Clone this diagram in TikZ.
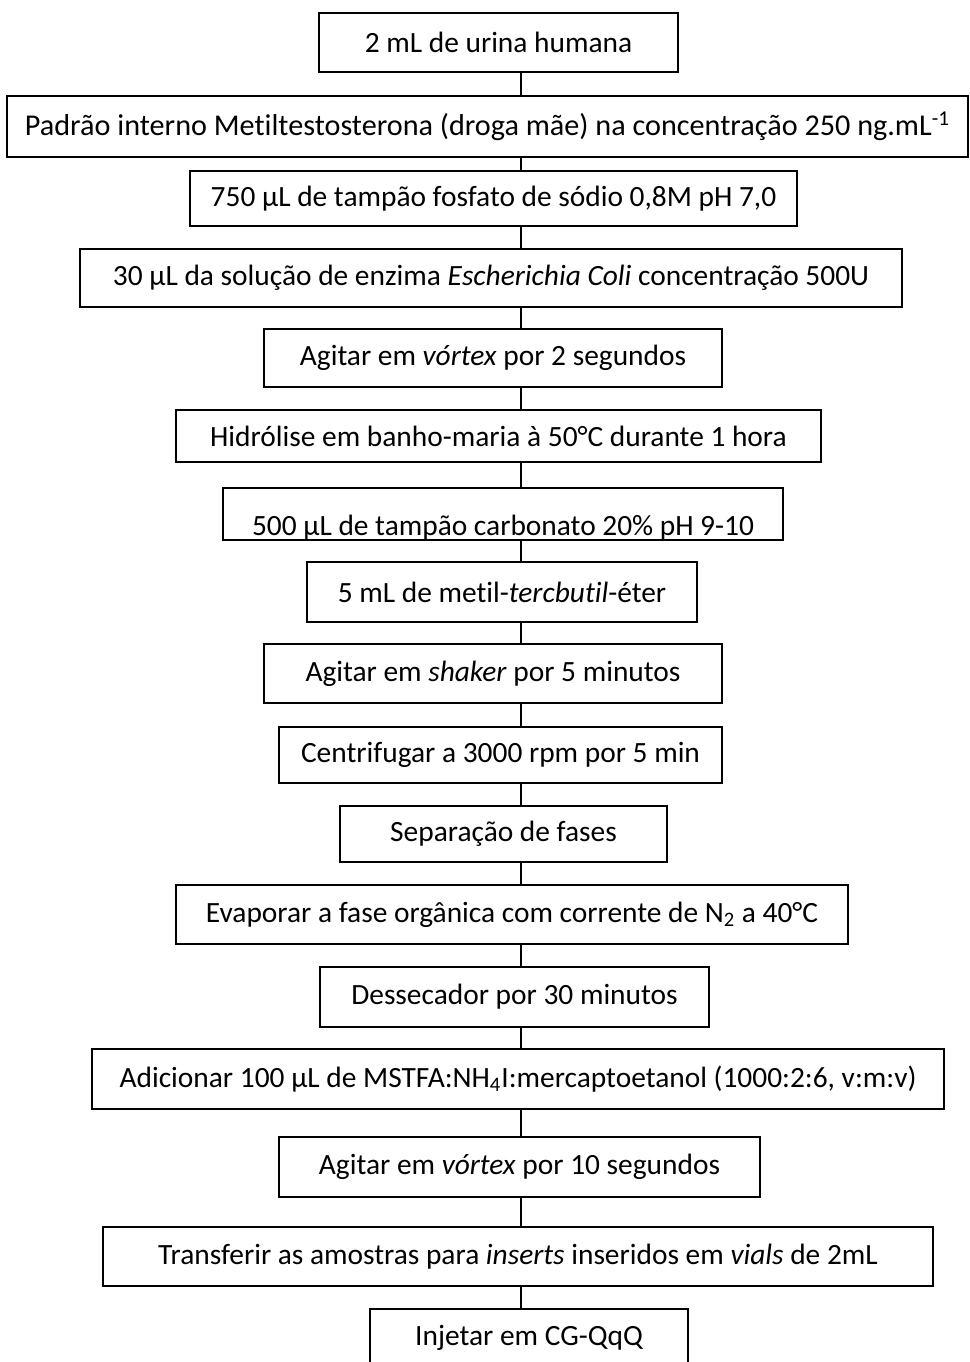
\documentclass[tikz,border=0pt]{standalone}
\usepackage{fontspec}
\setmainfont[Ligatures=NoCommon]{Carlito}
\begin{document}
\begin{tikzpicture}[x=0.5pt,y=-0.5pt,
  box/.style={draw, line width=1pt, inner sep=0pt, align=center, font=\fontsize{14.7}{17}\selectfont},
  conn/.style={line width=0.65pt}]
\useasboundingbox (0,0) rectangle (970,1362);
\clip (0,0) rectangle (970,1362);
\coordinate (spine) at (521,0);
\node[box, minimum width=179.5pt, minimum height=29.5pt] (b1) at (498.5,42.5) {2 mL de urina humana};
\node[box, minimum width=480.5pt, minimum height=30.5pt, font=\fontsize{15.1}{17}\selectfont] (b2) at (487.5,126.5) {Padrão interno Metiltestosterona (droga mãe) na concentração 250 ng.mL\textsuperscript{-1}};
\node[box, minimum width=303.5pt, minimum height=27.5pt] (b3) at (493.5,198.5) {750 µL de tampão fosfato de sódio 0,8M pH 7,0};
\node[box, minimum width=411pt, minimum height=29pt] (b4) at (491,278) {30 µL da solução de enzima \textit{Escherichia Coli} concentração 500U};
\node[box, minimum width=229pt, minimum height=29pt] (b5) at (493,358) {Agitar em \textit{vórtex} por 2 segundos};
\node[box, minimum width=322.5pt, minimum height=26pt] (b6) at (498.5,436) {Hidrólise em banho-maria à 50°C durante 1 hora};
\node[box, minimum width=280pt, minimum height=26pt, text height=23.5pt, text depth=2.5pt] (b7) at (503,514) {500 µL de tampão carbonato 20\% pH 9-10};
\node[box, minimum width=195pt, minimum height=30pt] (b8) at (502,592) {5 mL de metil-\textit{tercbutil}-éter};
\node[box, minimum width=229pt, minimum height=29.5pt] (b9) at (493,673.5) {Agitar em \textit{shaker} por 5 minutos};
\node[box, minimum width=221.5pt, minimum height=28pt] (b10) at (500.5,755) {Centrifugar a 3000 rpm por 5 min};
\node[box, minimum width=163.5pt, minimum height=28pt] (b11) at (503.5,834) {Separação de fases};
\node[box, minimum width=336pt, minimum height=29.5pt] (b12) at (512,914.5) {Evaporar a fase orgânica com corrente de N\textsubscript{2} a 40°C};
\node[box, minimum width=194.5pt, minimum height=30pt] (b13) at (514.5,997) {Dessecador por 30 minutos};
\node[box, minimum width=426pt, minimum height=30pt] (b14) at (518,1079) {Adicionar 100 µL de MSTFA:NH\textsubscript{4}I:mercaptoetanol (1000:2:6, v:m:v)};
\node[box, minimum width=240.5pt, minimum height=30pt] (b15) at (519.5,1167) {Agitar em \textit{vórtex} por 10 segundos};
\node[box, minimum width=415pt, minimum height=29.5pt] (b16) at (518,1256.5) {Transferir as amostras para \textit{inserts} inseridos em \textit{vials} de 2mL};
\node[box, minimum width=159pt, minimum height=29pt] (b17) at (529,1338) {Injetar em CG-QqQ};
\foreach \a/\b in {b1/b2,b2/b3,b3/b4,b4/b5,b5/b6,b6/b7,b7/b8,b8/b9,b9/b10,b10/b11,b11/b12,b12/b13,b13/b14,b14/b15,b15/b16,b16/b17}
  \draw[conn] (\a.south -| spine) -- (\b.north -| spine);
\end{tikzpicture}
\end{document}
